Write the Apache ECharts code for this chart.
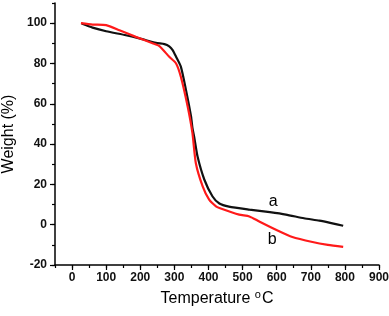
<!DOCTYPE html>
<html><head><meta charset="utf-8">
<script src="https://cdn.jsdelivr.net/npm/echarts@6/dist/echarts.min.js"></script>
<style>html,body{margin:0;padding:0;background:#fff}#c{width:389px;height:316px}</style>
</head><body><div id="c"></div>
<script>
var tempA = [28, 60, 100, 158, 200, 246, 271, 285, 295, 305, 319, 334, 349, 353, 358, 368, 388, 412, 432, 460, 520, 580, 627, 680, 725, 760, 795];
var weightA = [99.8, 97.8, 96.0, 94.0, 92.3, 90.2, 89.6, 88.5, 86.6, 83.3, 78.4, 66.9, 53.6, 48.0, 43.7, 33.8, 22.3, 14.0, 10.5, 9.0, 7.5, 6.2, 5.0, 3.2, 2.0, 0.8, -0.5];
var tempB = [26, 60, 100, 139, 187, 236, 256, 285, 305, 319, 339, 353, 363, 383, 402, 422, 432, 490, 520, 549, 598, 646, 705, 750, 795];
var weightB = [100.0, 99.3, 99.0, 96.5, 93.2, 90.0, 88.6, 83.3, 80.0, 73.4, 58.6, 45.4, 30.5, 19.0, 12.4, 9.1, 8.3, 5.0, 4.1, 1.6, -2.5, -6.1, -8.6, -10.0, -11.0];
var xMajorTicks = [0, 100, 200, 300, 400, 500, 600, 700, 800, 900];
var yMajorTicks = [-20, 0, 20, 40, 60, 80, 100];
var seriesLabels = ['a', 'b'];
var labelPosA = [590, 11.5];
var labelPosB = [587, -7.4];

function pairs(xs, ys){ return xs.map(function(x,i){ return [x, ys[i]]; }); }
var font = 'Liberation Sans, Arial, sans-serif';
var chart = echarts.init(document.getElementById('c'), null, {renderer:'canvas'});
chart.setOption({
  animation: false,
  grid: {left: 55, right: 10, top: 3, bottom: 51, containLabel: false, outerBoundsMode: 'none'},
  xAxis: [{
    type: 'value', min: -50, max: 900, interval: 50, position: 'bottom',
    splitLine: {show: false},
    axisLine: {show: true, onZero: false, lineStyle: {color: '#000', width: 1.5}},
    axisTick: {show: true, length: 3, lineStyle: {color: '#000', width: 1.2}},
    axisLabel: {show: false},
    name: '{n|Temperature }{s|o}{n|C}', nameLocation: 'middle', nameGap: 24,
    nameTextStyle: {rich: {
      n: {fontFamily: font, fontSize: 16, color: '#000'},
      s: {fontFamily: font, fontSize: 11, color: '#000', verticalAlign: 'top', padding: [0,1,8,0]}
    }}
  },{
    type: 'value', min: -50, max: 900, position: 'bottom',
    splitLine: {show: false},
    axisLine: {show: false, onZero: false},
    axisTick: {show: true, length: 5, customValues: xMajorTicks, lineStyle: {color: '#000', width: 1.2}},
    axisLabel: {show: true, customValues: xMajorTicks, margin: 7, fontFamily: font, fontSize: 12, fontWeight: 'bold', color: '#111'}
  }],
  yAxis: [{
    type: 'value', min: -20, max: 110, interval: 10, position: 'left',
    splitLine: {show: false},
    axisLine: {show: true, onZero: false, lineStyle: {color: '#000', width: 1.5}},
    axisTick: {show: true, length: 3, lineStyle: {color: '#000', width: 1.2}},
    axisLabel: {show: false},
    name: 'Weight (%)', nameLocation: 'middle', nameGap: 38,
    nameTextStyle: {fontFamily: font, fontSize: 16, color: '#000'}
  },{
    type: 'value', min: -20, max: 110, position: 'left',
    splitLine: {show: false},
    axisLine: {show: false, onZero: false},
    axisTick: {show: true, length: 5, customValues: yMajorTicks, lineStyle: {color: '#000', width: 1.2}},
    axisLabel: {show: true, customValues: yMajorTicks, margin: 8, fontFamily: font, fontSize: 12, fontWeight: 'bold', color: '#111'}
  }],
  series: [{
    type: 'line', xAxisIndex: 0, yAxisIndex: 0, data: pairs(tempA, weightA), showSymbol: false, smooth: 0.2,
    lineStyle: {color: '#111', width: 2.2}, z: 3,
    markPoint: {symbol: 'circle', symbolSize: 0, data: [{coord: labelPosA, value: seriesLabels[0]}],
      label: {show: true, formatter: seriesLabels[0], fontFamily: font, fontSize: 16, color: '#000'}}
  },{
    type: 'line', xAxisIndex: 0, yAxisIndex: 0, data: pairs(tempB, weightB), showSymbol: false, smooth: 0.2,
    lineStyle: {color: '#ff1a1a', width: 2.2}, z: 4,
    markPoint: {symbol: 'circle', symbolSize: 0, data: [{coord: labelPosB, value: seriesLabels[1]}],
      label: {show: true, formatter: seriesLabels[1], fontFamily: font, fontSize: 16, color: '#000'}}
  }]
});
</script></body></html>
